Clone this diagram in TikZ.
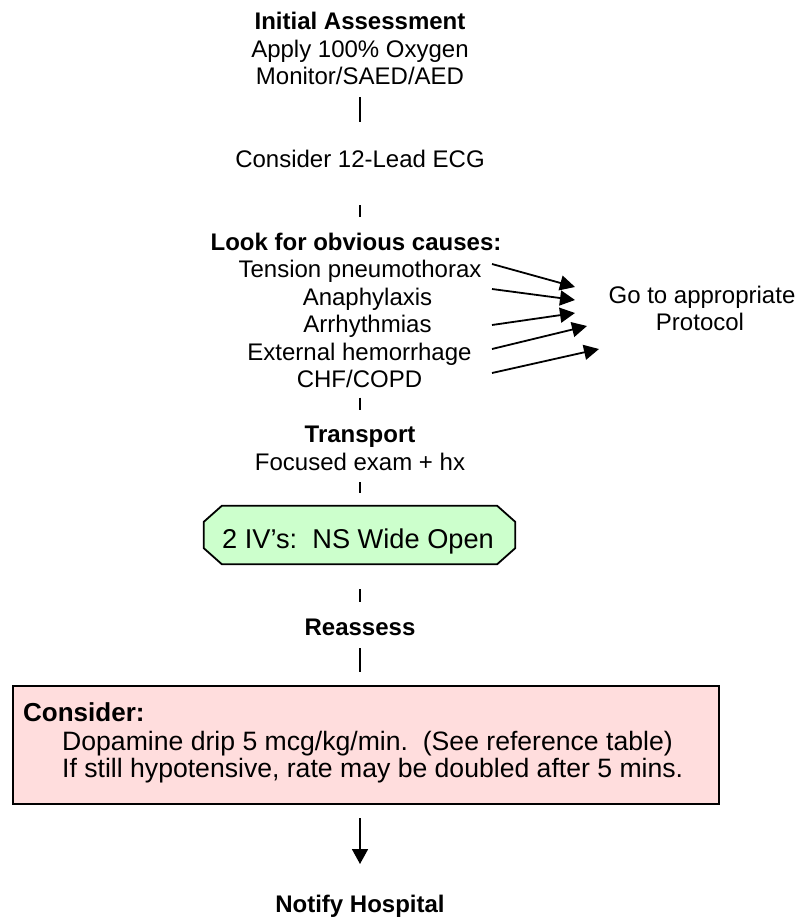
\documentclass[tikz,border=0pt]{standalone}
\usepackage{fontspec}
\setmainfont{Liberation Sans}
\usetikzlibrary{arrows.meta,backgrounds,calc}
\definecolor{ivgreen}{HTML}{CCFFCC}
\definecolor{considerpink}{HTML}{FFDDDD}
\begin{document}
\begin{tikzpicture}[x=1pt,y=-1pt,
  txt/.style={font=\fontsize{24}{27.5}\selectfont, inner sep=0pt, anchor=base},
  hdr/.style={txt, font=\fontsize{24}{27.5}\selectfont\bfseries},
  bigtxt/.style={font=\fontsize{26.6}{30}\selectfont, inner sep=0pt, anchor=base west},
  link/.style={line width=1.8pt},
  tick/.style={line width=1.5pt},
  causearrow/.style={line width=1.8pt, -{Triangle[length=15pt,width=15pt]}},
  downarrow/.style={line width=1.8pt, -{Triangle[length=15pt,width=16pt]}},
  ivshape/.style={draw, line width=1.8pt, fill=ivgreen},
  considerbox/.style={draw, line width=2.5pt, fill=considerpink, inner sep=0pt,
    minimum width=706pt, minimum height=118pt},
]
\useasboundingbox (0,0) rectangle (798,918);

% Initial assessment block
\node[hdr] (init) at (360,29) {Initial Assessment};
\node[txt] (oxy) at (360,57) {Apply 100\% Oxygen};
\node[txt] (mon) at (360,84) {Monitor/SAED/AED};
\node[txt] (ecg) at (360,167) {Consider 12-Lead ECG};

% Obvious causes
\node[hdr] (look) at (356,250) {Look for obvious causes:};
\node[txt] (tp)  at (360,277)   {Tension pneumothorax};
\node[txt] (ana) at (367.5,305) {Anaphylaxis};
\node[txt] (arr) at (367.5,332.5) {Arrhythmias};
\node[txt] (ext) at (359.5,360) {External hemorrhage};
\node[txt] (chf) at (359.5,387.5) {CHF/COPD};

\node[txt] (go1) at (702,303.5) {Go to appropriate};
\node[txt] (go2) at (700,330.5) {Protocol};

% start and end points of the cause arrows
\coordinate (s1) at (492,264); \coordinate (t1) at (575,287);
\coordinate (s2) at (492,289); \coordinate (t2) at (575,300);
\coordinate (s3) at (492,325); \coordinate (t3) at (575,313);
\coordinate (s4) at (492,349); \coordinate (t4) at (587,326);
\coordinate (s5) at (492,373); \coordinate (t5) at (599,349);
\foreach \i in {1,...,5} \draw[causearrow] (s\i) -- (t\i);

% Transport
\node[hdr] (trans) at (360,442) {Transport};
\node[txt] (exam) at (360,470) {Focused exam + hx};

% IV step (chamfered box)
\node[inner sep=0pt, minimum width=311pt, minimum height=58pt] (iv) at (359.5,535) {};
\node[bigtxt, font=\fontsize{27.2}{30}\selectfont] (ivtext) at (222,548) {2 IV’s:\ \ NS Wide Open};
\begin{scope}[on background layer]
  \draw[ivshape]
    ([xshift=18pt]iv.north west) -- ([xshift=-18pt]iv.north east)
    -- ([yshift=-16pt]iv.north east) -- ([yshift=16pt]iv.south east)
    -- ([xshift=-18pt]iv.south east) -- ([xshift=18pt]iv.south west)
    -- ([yshift=16pt]iv.south west) -- ([yshift=-16pt]iv.north west) -- cycle;
\end{scope}

\node[hdr] (reassess) at (360,635) {Reassess};

% Consider box
\node[considerbox] (cons) at (366,745) {};
\node[bigtxt, font=\fontsize{26}{30}\selectfont\bfseries] (consh) at (23,721) {Consider:};
\node[bigtxt] (dop) at (62,750) {Dopamine drip 5 mcg/kg/min.\ \ (See reference table)};
\node[bigtxt] (dbl) at (62,777) {If still hypotensive, rate may be doubled after 5 mins.};

\node[hdr] (notify) at (360,912) {Notify Hospital};

% Connectors
\draw[link] ([yshift=-13pt]mon.base) -- ([yshift=45pt]ecg.base);
\draw[tick] ([yshift=-38pt]ecg.base) -- ($(ecg.base |- look.base)+(0,-33)$);
\draw[tick] ([xshift=0.5pt,yshift=-10pt]chf.base) -- ([yshift=32pt]trans.base);
\draw[tick] ([yshift=-12pt]exam.base) -- ([xshift=0.5pt,yshift=13pt]iv.north);
\draw[tick] ([xshift=0.5pt,yshift=-25pt]iv.south) -- ([yshift=33pt]reassess.base);
\draw[link] ([yshift=-13pt]reassess.base) -- ([xshift=-6pt,yshift=13pt]cons.north);
\draw[downarrow] ([xshift=-6pt,yshift=-13pt]cons.south) -- ([yshift=48pt]notify.base);
\end{tikzpicture}
\end{document}
